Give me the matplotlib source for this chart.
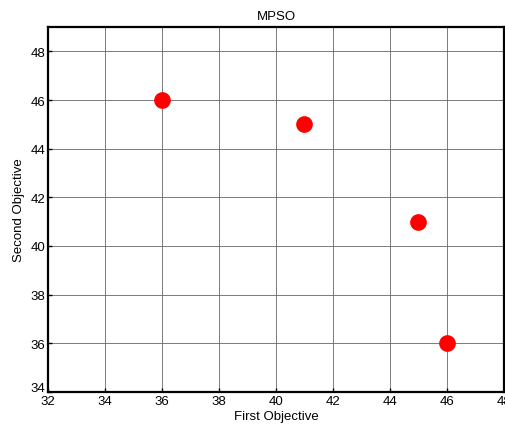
import matplotlib.pyplot as plt
import matplotlib.transforms as mtransforms

# objective values of the non-dominated solutions
first_obj = [36, 41, 45, 46]
second_obj = [46, 45, 41, 36]
x_ticks = [32, 34, 36, 38, 40, 42, 44, 46, 48]
y_ticks = [34, 36, 38, 40, 42, 44, 46, 48]

plt.rcParams['font.family'] = ['Liberation Sans', 'DejaVu Sans']

fig = plt.figure(figsize=(5.06, 4.31), dpi=100)
ax = fig.add_axes([0.0949, 0.0882, 0.9011, 0.8468])

ax.plot(first_obj, second_obj, 'o', color='red', markersize=11, zorder=3)

ax.set_xlim(32, 48)
ax.set_ylim(34, 49)
ax.set_xticks(x_ticks)
ax.set_yticks(y_ticks)
ax.grid(True, color='#666666', linewidth=0.6)
ax.tick_params(direction='in', length=3, labelsize=9.5, width=1, pad=2)
for s in ax.spines.values():
    s.set_linewidth(1.6)

# lift the bottom y label so it clears the first x label
fig.canvas.draw()
lbl = ax.get_yticklabels()[0]
lbl.set_transform(lbl.get_transform() + mtransforms.ScaledTranslation(0, 4 / 72, fig.dpi_scale_trans))

ax.set_title('MPSO', fontsize=9.5)
ax.set_xlabel('First Objective', fontsize=9.5, labelpad=2)
ax.set_ylabel('Second Objective', fontsize=9.5, labelpad=4)

fig.savefig('out.png', dpi=100)
